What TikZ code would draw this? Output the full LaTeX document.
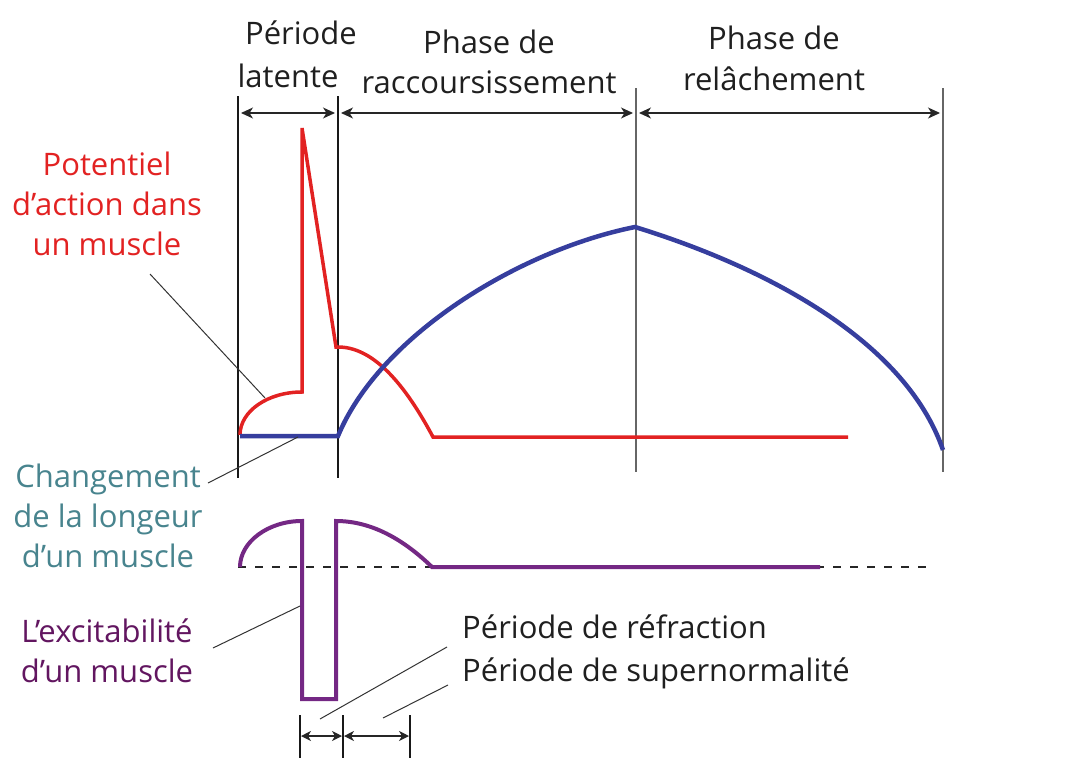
\documentclass[tikz,border=0pt]{standalone}
\usepackage{fontspec}
\setmainfont{Open Sans}
\usetikzlibrary{arrows.meta}
\definecolor{apred}{RGB}{226,34,34}
\definecolor{lenblue}{RGB}{54,62,158}
\definecolor{lenteal}{RGB}{72,132,142}
\definecolor{expurple}{RGB}{116,40,132}
\definecolor{extext}{RGB}{98,22,96}
\tikzset{
	lbl/.style={font=\fontsize{31}{40}\selectfont, inner sep=0pt, align=center, text=black!88},
	bound/.style={line width=1.5pt, color=black!90},
	faint/.style={line width=1.3pt, color=black!60},
	span/.style={line width=1.2pt, color=black!85, >={Stealth[length=12pt,width=11pt,inset=3.5pt]}, <->, shorten <=3pt, shorten >=3pt},
	leader/.style={line width=1pt, color=black!80},
}

\begin{document}
\begin{tikzpicture}[x=1pt, y=-1pt]
		%%%%% START %%%%%
		\useasboundingbox (0,0) rectangle (1081,768);
		
		% phase boundaries
		\coordinate (b0t) at (238,96);  \coordinate (b0b) at (238,478);
		\coordinate (b1t) at (338,96);  \coordinate (b1b) at (338,478);
		\coordinate (b2t) at (636,88);  \coordinate (b2b) at (636,472);
		\coordinate (b3t) at (943,88);  \coordinate (b3b) at (943,472);
		\draw[bound] (b0t) -- (b0b);
		\draw[bound] (b1t) -- (b1b);
		\draw[faint] (b2t) -- (b2b);
		\draw[faint] (b3t) -- (b3b);
		
		\coordinate (s0) at (238,113);
		\coordinate (s1) at (338,113);
		\coordinate (s2) at (636,113);
		\coordinate (s3) at (943,113);
		\draw[span] (s0) -- (s1);
		\draw[span] (s1) -- (s2);
		\draw[span] (s2) -- (s3);
		
		\node[lbl, anchor=base] (latentA) at (301,45) {Période};
		\node[lbl, anchor=base] (latentB) at (288,88) {latente};
		\node[lbl, anchor=base] (shorten) at (489,93) {Phase de\\raccoursissement};
		\node[lbl, anchor=base] (relax) at (774,90) {Phase de\\relâchement};
		
		% action potential
		\draw[line width=3.5pt, color=apred] (240,435) .. controls (240,411) and (268,392) .. (302,392) -- (302,128) -- (336,347) -- (338,347) .. controls (370,347) and (401,377) .. (433,437) -- (848,437);
		
		% muscle length
		\draw[line width=4.5pt, color=lenblue] (240,436) -- (338,436) .. controls (380,335) and (520,250) .. (635,227) .. controls (765,267) and (905,340) .. (943,450);
		
		% excitability
		\coordinate (d0) at (238,567);
		\coordinate (d1) at (927,567);
		\draw[line width=2pt, color=black!85, dash pattern=on 8pt off 9pt] (d0) -- (d1);
		\draw[line width=4pt, color=expurple] (240,567) .. controls (240,542) and (268,521) .. (302,521) -- (302,699) -- (336,699) -- (336,521) .. controls (368,521) and (400,536) .. (432,567) -- (820,567);
		
		\node[lbl, anchor=base, text=apred] (aplabel) at (107,255) {Potentiel\\d’action dans\\un muscle};
		\node[lbl, anchor=base, text=lenteal] (lenlabel) at (108,567) {Changement\\de la longeur\\d’un muscle};
		\node[lbl, anchor=base, text=extext] (exlabel) at (107,682) {L’excitabilité\\d’un muscle};
		
		\coordinate (lp0) at (150,274); \coordinate (lp1) at (265,398);
		\coordinate (lc0) at (208,483); \coordinate (lc1) at (298,437);
		\coordinate (le0) at (213,648); \coordinate (le1) at (300,606);
		\draw[leader] (lp0) -- (lp1);
		\draw[leader] (lc0) -- (lc1);
		\draw[leader] (le0) -- (le1);
		
		% refraction / supernormal
		\coordinate (r0t) at (300,715); \coordinate (r0b) at (300,758);
		\coordinate (r1t) at (343,715); \coordinate (r1b) at (343,758);
		\coordinate (r2t) at (410,715); \coordinate (r2b) at (410,758);
		\draw[bound, line width=1.2pt] (r0t) -- (r0b);
		\draw[bound, line width=1.2pt] (r1t) -- (r1b);
		\draw[bound, line width=1.2pt] (r2t) -- (r2b);
		\coordinate (q0) at (300,736);
		\coordinate (q1) at (343,736);
		\coordinate (q2) at (410,736);
		\draw[span, >={Stealth[length=10pt,width=10pt,inset=3pt]}, shorten <=1pt, shorten >=1pt] (q0) -- (q1);
		\draw[span, >={Stealth[length=10pt,width=10pt,inset=3pt]}, shorten <=1pt, shorten >=1pt] (q1) -- (q2);
		
		\node[lbl, anchor=base west] (refrac) at (462,638) {Période de réfraction};
		\node[lbl, anchor=base west] (supern) at (462,681) {Période de supernormalité};
		\coordinate (lr0) at (320,719); \coordinate (lr1) at (447,647);
		\coordinate (ls0) at (383,718); \coordinate (ls1) at (448,685);
		\draw[leader] (lr0) -- (lr1);
		\draw[leader] (ls0) -- (ls1);
		
		%%%%% END %%%%%
\end{tikzpicture}
\end{document}
